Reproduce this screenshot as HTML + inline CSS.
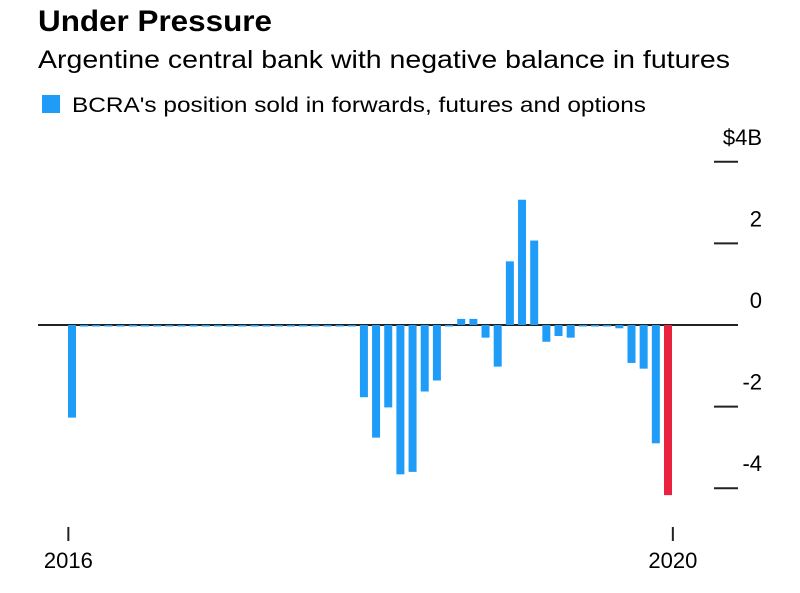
<!DOCTYPE html>
<html><head><meta charset="utf-8"><style>
body{margin:0;background:#fff;font-family:"Liberation Sans",sans-serif;}
</style></head><body>
<svg width="800" height="588" xmlns="http://www.w3.org/2000/svg" style="font-family:'Liberation Sans',sans-serif">
<text x="38" y="31" font-size="30" font-weight="bold" fill="#000" textLength="234" lengthAdjust="spacingAndGlyphs">Under Pressure</text>
<text x="38" y="68" font-size="25" fill="#000" textLength="692" lengthAdjust="spacingAndGlyphs">Argentine central bank with negative balance in futures</text>
<g>
<rect x="42" y="95" width="18" height="18" fill="#1e9cf7"/>
<text x="72" y="112" font-size="21" fill="#000" textLength="574" lengthAdjust="spacingAndGlyphs">BCRA's position sold in forwards, futures and options</text>
</g>
<g id="axes"></g>
<g id="bars"></g>
</svg>
<script>
const values=[-2.27,-0.03,-0.03,-0.03,-0.03,-0.03,-0.03,-0.03,-0.03,-0.03,-0.03,-0.03,-0.03,-0.03,-0.03,-0.03,-0.03,-0.03,-0.03,-0.03,-0.03,-0.03,-0.03,-0.03,
-1.77,-2.76,-2.02,-3.66,-3.6,-1.63,-1.36,-0.03,0.15,0.15,-0.31,-1.02,1.56,3.07,2.07,-0.41,-0.27,-0.31,-0.02,-0.02,-0.02,-0.08,-0.93,-1.07,-2.9,-4.17];
const yTicks=[4,2,0,-2,-4];
const yTickLabels=["$4B","2","0","-2","-4"];
const xLabels=["2016","2020"];
const xLabelIdx=[-0.3,49.4];
const NS="http://www.w3.org/2000/svg";
const y=v=>325-v*40.8;
const x=i=>72+i*12.163;
const bars=document.getElementById('bars'),axes=document.getElementById('axes');
function mk(tag,attrs,parent){const e=document.createElementNS(NS,tag);for(const k in attrs)e.setAttribute(k,attrs[k]);parent.appendChild(e);return e;}
const zl=mk('line',{x1:38,x2:738,y1:y(0),y2:y(0),stroke:'#222','stroke-width':2},axes);


yTicks.forEach((t,i)=>{
 const l=mk('line',{x1:714,x2:738,y1:y(t),y2:y(t),stroke:'#222','stroke-width':2},axes);
 
 
 const tx=mk('text',{x:762,y:y(t)-17,'text-anchor':'end','font-size':22,fill:'#000'},axes);
 tx.textContent=yTickLabels[i];
 
 
});
xLabels.forEach((lab,i)=>{
 const xx=x(xLabelIdx[i]);
 const l=mk('line',{x1:xx,x2:xx,y1:527,y2:541,stroke:'#222','stroke-width':2},axes);
 
 
 const tx=mk('text',{x:xx,y:568,'text-anchor':'middle','font-size':22,fill:'#000'},axes);
 tx.textContent=lab;
 
 
});
values.forEach((v,i)=>{
 const last=i===values.length-1;
 const y0=Math.min(y(v),y(0)),h=Math.max(Math.abs(y(v)-y(0)),1.5);
 const r=mk('rect',{x:x(i)-4,y:y0,width:8,height:h,fill:last?'#e8223f':'#1e9cf7'},bars);
 
 
});
</script>
</body></html>
